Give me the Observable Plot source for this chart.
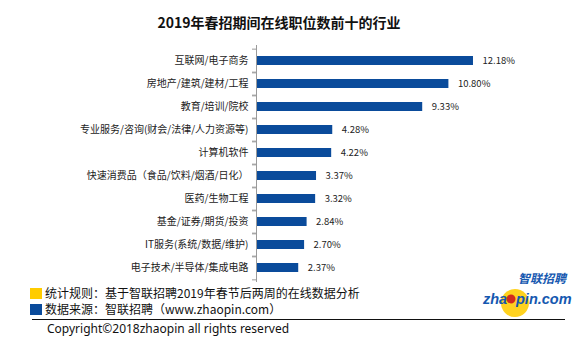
<!DOCTYPE html>
<html>
<head>
<meta charset="utf-8">
<script src="https://cdn.jsdelivr.net/npm/d3@7"></script>
<script src="https://cdn.jsdelivr.net/npm/@observablehq/plot@0.6"></script>
<style>
  html, body { margin: 0; padding: 0; background: #fff; }
  #wrap { position: relative; width: 584px; height: 350px; overflow: hidden; font-family: "Noto Sans CJK SC", "Noto Sans", sans-serif; }
  #wrap svg.plot { position: absolute; left: 0; top: 0; }
  .abs { position: absolute; white-space: nowrap; color: #111; }
  #title { left: 0; width: 558px; top: 11px; text-align: center; font-size: 14px; font-weight: bold; line-height: 22px; }
  .sq { position: absolute; width: 12px; height: 11px; }
  .note { font-size: 12px; line-height: 14px; }
</style>
</head>
<body>
<div id="wrap">
  <div id="chart"></div>
  <div id="title" class="abs">2019年春招期间在线职位数前十的行业</div>
  <div class="sq" style="left:30px;top:288px;background:#ffcc00"></div>
  <div class="sq" style="left:30px;top:304px;background:#0a4b9b"></div>
  <div class="abs note" style="left:45px;top:286px">统计规则：基于智联招聘2019年春节后两周的在线数据分析</div>
  <div class="abs note" style="left:45px;top:302px">数据来源：智联招聘（www.zhaopin.com）</div>
  <div style="position:absolute;left:32px;top:319px;width:533px;height:1px;background:#111"></div>
  <div class="abs note" style="left:47px;top:322px;font-family:'Noto Sans',sans-serif">Copyright©2018zhaopin all rights reserved</div>
  <svg style="position:absolute;left:470px;top:266px" width="110" height="54">
    <circle cx="45" cy="37" r="14" fill="#ffd21f"/>
    <text x="48" y="17" font-size="12" font-weight="bold" font-style="italic" fill="#1558b0" font-family="Noto Sans CJK SC">智联招聘</text>
    <text x="13" y="38" font-size="14.5" font-weight="bold" font-style="italic" fill="#1558b0" font-family="Liberation Sans">zha</text>
    <circle cx="41" cy="33" r="4.5" fill="#d42a1c"/>
    <text x="46" y="38" font-size="14.5" font-weight="bold" font-style="italic" fill="#1558b0" font-family="Liberation Sans">pin.com</text>
  </svg>
</div>
<script>
const categories = [
  "互联网/电子商务",
  "房地产/建筑/建材/工程",
  "教育/培训/院校",
  "专业服务/咨询(财会/法律/人力资源等)",
  "计算机软件",
  "快速消费品（食品/饮料/烟酒/日化）",
  "医药/生物工程",
  "基金/证券/期货/投资",
  "IT服务(系统/数据/维护)",
  "电子技术/半导体/集成电路"
];
const values = [12.18, 10.80, 9.33, 4.28, 4.22, 3.37, 3.32, 2.84, 2.70, 2.37];

const data = categories.map((name, i) => ({ name, value: values[i] }));

const height = 350, marginTop = 45, marginBottom = 68;
const step = (height - marginTop - marginBottom) / categories.length;
const barColor = "#0a4b9b";

const chart = Plot.plot({
  width: 584,
  height,
  marginTop,
  marginBottom,
  marginLeft: 256,
  marginRight: 78.6,
  style: { fontFamily: "'Noto Sans CJK SC', 'Noto Sans', sans-serif", background: "transparent" },
  x: { domain: [0, 14], axis: null },
  y: { domain: categories, paddingInner: 0.62, paddingOuter: 0.31, label: null },
  marks: [
    Plot.barX(data, { x: "value", y: "name", fill: barColor }),
    Plot.ruleX([0], { stroke: "#9a9a9a" }),
    Plot.axisY({ text: null, tickSize: 4, dy: -step / 2, stroke: "#9a9a9a" }),
    Plot.axisY({ text: null, tickSize: 4, dy: step / 2, stroke: "#9a9a9a" }),
    Plot.axisY({ tickSize: 0, tickPadding: 8, fontSize: 10, fill: "#222", label: null }),
    Plot.text(data, {
      x: "value", y: "name",
      text: d => d.value.toFixed(2) + "%",
      textAnchor: "start", dx: 9, fontSize: 9.5, fill: "#222"
    })
  ]
});
chart.classList.add("plot");
document.getElementById("chart").appendChild(chart);
</script>
</body>
</html>
